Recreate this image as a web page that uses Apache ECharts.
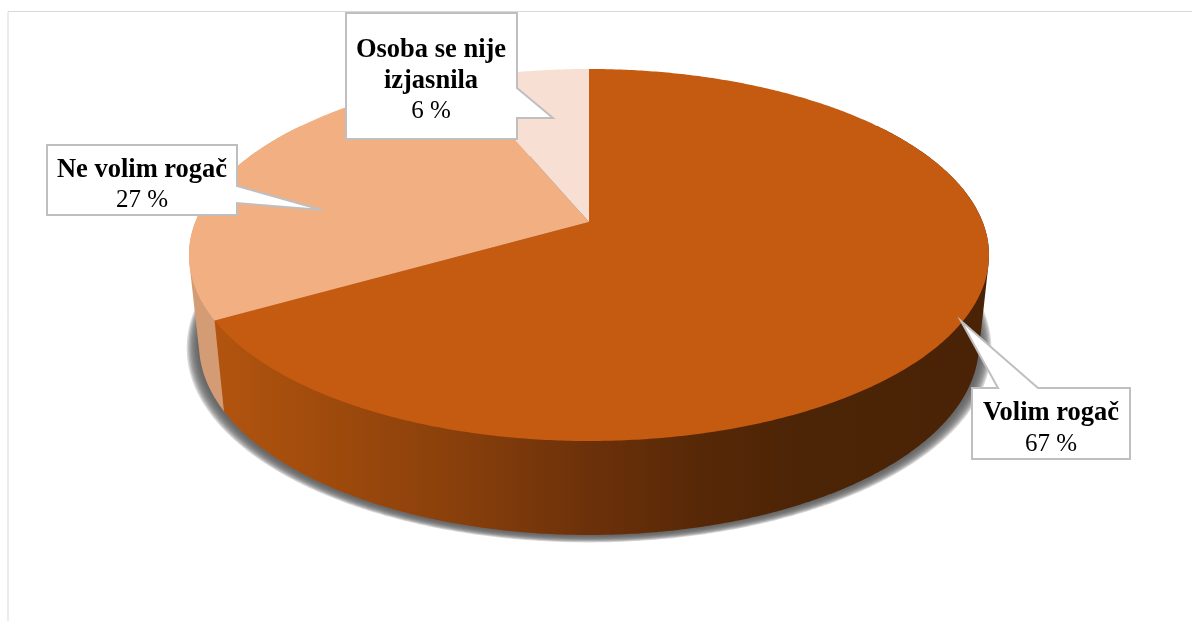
<!DOCTYPE html>
<html><head><meta charset="utf-8">
<style>html,body{margin:0;padding:0;background:#fff}#c{width:1192px;height:621px}</style>
<script src="https://cdn.jsdelivr.net/npm/echarts@6/dist/echarts.min.js"></script>
</head><body><div id="c"></div>
<script>
const categories = ['Volim rogač', 'Ne volim rogač', 'Osoba se nije\nizjasnila'];
const sliceValues = [66.7, 27.1, 6.2];
const topColors = ['#C55A11', '#F2AF82', '#F7E0D3'];
const sideColors = [null, '#D49C74', '#D9C5B8'];

// projected disc: top face and bottom face ellipses
const disc = { cx: 589, yTop: 69, yApex: 222, yBot: 441, rx: 400, bRx: 390, bTop: 153, bBot: 535 };
const shadowRings = [0, 1, 2, 3, 4, 5, 6, 7, 8];
const callouts = [
  { pts: [[972,388],[998,388],[961,321],[1038,388],[1130,388],[1130,459],[972,459]], tx: 1051, ty: [413,444] },
  { pts: [[47,145],[237,145],[237,186],[322,210],[237,203],[237,215],[47,215]], tx: 142, ty: [170,200] },
  { pts: [[346,13],[517,13],[517,88],[553,118],[517,118],[517,139],[346,139]], tx: 431, ty: [50,81,111] }
];

const total = sliceValues.reduce((a, b) => a + b, 0);
const starts = sliceValues.map((_, i) => sliceValues.slice(0, i).reduce((a, b) => a + b, 0));

const A = disc.yApex, T = disc.yTop, B = disc.yBot;
const persp = (B + T - 2 * A) / (B - T);
const aY = T * (1 + persp) - A;
const dX = disc.rx * Math.sqrt(1 - persp * persp);
function topPoint(theta) {
  const u = Math.sin(theta), v = Math.cos(theta), w = 1 + persp * v;
  return [disc.cx + dX * u / w, (aY * v + A) / w];
}
function lowerPoint(theta, rx, top, bot) {
  const p = topPoint(theta);
  const t = (p[1] - T) / (B - T);
  return [disc.cx + (p[0] - disc.cx) * rx / disc.rx, top + t * (bot - top)];
}
const bottomPoint = th => lowerPoint(th, disc.bRx, disc.bTop, disc.bBot);
function arc(fn, a0, a1) {
  const n = Math.max(2, Math.ceil(Math.abs(a1 - a0) / (Math.PI / 360)));
  const out = [];
  for (let i = 0; i <= n; i++) out.push(fn(a0 + (a1 - a0) * i / n));
  return out;
}
// outline of the wall: includes the tangent lines joining the two faces
function hull(points) {
  const p = points.slice().sort((a, b) => a[0] - b[0] || a[1] - b[1]);
  const cross = (o, a, b) => (a[0] - o[0]) * (b[1] - o[1]) - (a[1] - o[1]) * (b[0] - o[0]);
  const half = list => {
    const h = [];
    list.forEach(q => {
      while (h.length > 1 && cross(h[h.length - 2], h[h.length - 1], q) <= 0) h.pop();
      h.push(q);
    });
    h.pop();
    return h;
  };
  return half(p).concat(half(p.slice().reverse()));
}
const wallGradient = {
  type: 'linear', x: 215, y: 0, x2: 985, y2: 0, global: true,
  colorStops: [
    { offset: 0, color: '#B2540F' }, { offset: 0.11, color: '#A44D0D' },
    { offset: 0.305, color: '#8A400B' }, { offset: 0.487, color: '#6C310A' },
    { offset: 0.63, color: '#572807' }, { offset: 0.76, color: '#4C2406' }, { offset: 1, color: '#4A2205' }
  ]
};
const sliceData = sliceValues.map((v, i) => ({ name: categories[i], value: [v, starts[i]] }));

const option = {
  animation: false,
  backgroundColor: '#fff',
  graphic: [
    { type: 'polyline', silent: true, shape: { points: [[8, 621], [8, 11.5], [1192, 11.5]] },
      style: { stroke: '#D9D9D9', lineWidth: 1, fill: null } }
  ],
  series: [
    { type: 'custom', coordinateSystem: 'none', silent: true, z: 1,
      data: shadowRings,
      renderItem(params) {
        const k = shadowRings[params.dataIndex];
        const ring = th => lowerPoint(th, disc.bRx + 1.5 + k * 1.35, disc.bTop + 1, disc.bBot + 1 + k * 0.8);
        return { type: 'polygon', shape: { points: arc(ring, 0, 2 * Math.PI) },
          style: { fill: 'rgba(90,90,90,0.24)' } };
      }
    },
    { type: 'custom', coordinateSystem: 'none', silent: true, z: 2,
      data: sliceData,
      renderItem(params, api) {
        const i = params.dataIndex;
        const a0 = api.value(1) / total * 2 * Math.PI;
        const a1 = (api.value(1) + api.value(0)) / total * 2 * Math.PI;
        const lo = Math.max(a0, Math.PI * 0.3), hi = Math.min(a1, Math.PI * 1.7);
        if (hi <= lo) return null;
        const pts = hull(arc(topPoint, lo, hi).concat(arc(bottomPoint, hi, lo)));
        return { type: 'polygon', z2: sliceValues.length - i, shape: { points: pts },
          style: { fill: i === 0 ? wallGradient : sideColors[i] } };
      }
    },
    { type: 'custom', coordinateSystem: 'none', silent: true, z: 3,
      data: sliceData,
      renderItem(params, api) {
        const i = params.dataIndex;
        const a0 = api.value(1) / total * 2 * Math.PI;
        const a1 = (api.value(1) + api.value(0)) / total * 2 * Math.PI;
        const pts = [[disc.cx, A]].concat(arc(topPoint, a0, a1));
        return { type: 'polygon', shape: { points: pts }, style: { fill: topColors[i] } };
      }
    },
    { type: 'custom', coordinateSystem: 'none', silent: true, z: 4,
      data: sliceData,
      renderItem(params, api) {
        const i = params.dataIndex, c = callouts[i];
        const lines = categories[i].split('\n');
        const children = [{ type: 'polygon', shape: { points: c.pts },
          style: { fill: '#fff', stroke: '#BFBFBF', lineWidth: 2 } }];
        lines.forEach((t, j) => children.push({ type: 'text', z2: 5,
          style: { x: c.tx, y: c.ty[j], text: t, align: 'center', verticalAlign: 'middle',
            font: 'bold 26.5px "Liberation Serif"', fill: '#000' } }));
        children.push({ type: 'text', z2: 5,
          style: { x: c.tx, y: c.ty[lines.length], text: Math.round(api.value(0)) + ' %', align: 'center', verticalAlign: 'middle',
            font: '25px "Liberation Serif"', fill: '#000' } });
        return { type: 'group', children };
      }
    }
  ]
};
echarts.init(document.getElementById('c'), null, { renderer: 'canvas' }).setOption(option);
</script></body></html>
